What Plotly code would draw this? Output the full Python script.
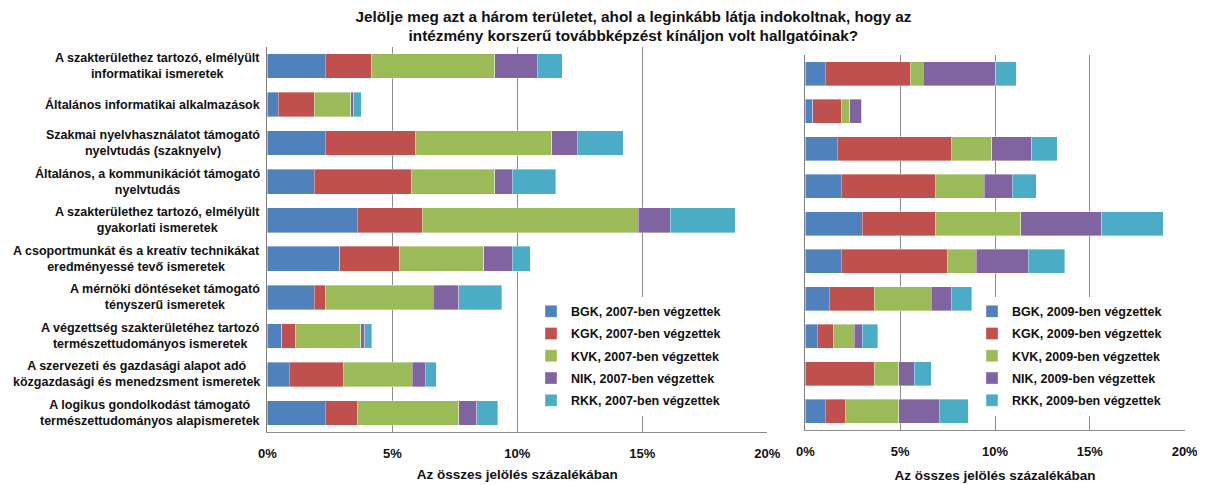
import plotly.graph_objects as go

categories = [
    "A szakterülethez tartozó, elmélyült<br>informatikai ismeretek",
    "Általános informatikai alkalmazások",
    "Szakmai nyelvhasználatot támogató<br>nyelvtudás (szaknyelv)",
    "Általános, a kommunikációt támogató<br>nyelvtudás",
    "A szakterülethez tartozó, elmélyült<br>gyakorlati ismeretek",
    "A csoportmunkát és a kreatív technikákat<br>eredményessé tevő ismeretek",
    "A mérnöki döntéseket támogató<br>tényszerű ismeretek",
    "A végzettség szakterületéhez tartozó<br>természettudományos ismeretek",
    "A szervezeti és gazdasági alapot adó<br>közgazdasági és menedzsment ismeretek",
    "A logikus gondolkodást támogató<br>természettudományos alapismeretek",
]
cat_ids = [f"c{i}" for i in range(len(categories))]

faculties = ["BGK", "KGK", "KVK", "NIK", "RKK"]
colors = ["#4F81BD", "#C0504D", "#9BBB59", "#8064A2", "#4BACC6"]

# percentages, 2007 graduates
bgk_2007 = [2.32, 0.44, 2.32, 1.88, 3.60, 2.89, 1.88, 0.57, 0.88, 2.32]
kgk_2007 = [1.85, 1.43, 3.59, 3.89, 2.59, 2.41, 0.43, 0.57, 2.15, 1.29]
kvk_2007 = [4.92, 1.46, 5.46, 3.32, 8.65, 3.35, 4.33, 2.60, 2.76, 4.04]
nik_2007 = [1.70, 0.12, 1.02, 0.71, 1.27, 1.15, 1.01, 0.16, 0.53, 0.72]
rkk_2007 = [1.01, 0.30, 1.85, 1.73, 2.60, 0.72, 1.72, 0.27, 0.44, 0.84]

# percentages, 2009 graduates
bgk_2009 = [1.05, 0.40, 1.69, 1.90, 3.01, 1.90, 1.27, 0.63, 0.00, 1.05]
kgk_2009 = [4.48, 1.48, 5.99, 4.94, 3.83, 5.57, 2.35, 0.83, 3.62, 1.09]
kvk_2009 = [0.69, 0.47, 2.16, 2.58, 4.51, 1.53, 3.02, 1.11, 1.30, 2.78]
nik_2009 = [3.83, 0.63, 2.11, 1.48, 4.27, 2.74, 1.04, 0.42, 0.81, 2.13]
rkk_2009 = [1.07, 0.00, 1.34, 1.28, 3.24, 1.93, 1.09, 0.84, 0.91, 1.53]

series_2007 = [bgk_2007, kgk_2007, kvk_2007, nik_2007, rkk_2007]
series_2009 = [bgk_2009, kgk_2009, kvk_2009, nik_2009, rkk_2009]

tick_vals = [0, 5, 10, 15, 20]
tick_text = ["0%", "5%", "10%", "15%", "20%"]

FONT = "Liberation Sans, Arial, sans-serif"

fig = go.Figure()

for name, col, vals in zip(faculties, colors, series_2007):
    fig.add_trace(go.Bar(
        x=vals, y=cat_ids, orientation="h", name=f"{name}, 2007-ben végzettek",
        marker=dict(color=col, line=dict(color="rgba(255,255,255,0.45)", width=0.8)),
        xaxis="x", yaxis="y", legend="legend", legendgroup=f"{name}07",
    ))

for name, col, vals in zip(faculties, colors, series_2009):
    fig.add_trace(go.Bar(
        x=vals, y=cat_ids, orientation="h", name=f"{name}, 2009-ben végzettek",
        marker=dict(color=col, line=dict(color="rgba(255,255,255,0.45)", width=0.8)),
        xaxis="x2", yaxis="y2", legend="legend2", legendgroup=f"{name}09",
    ))

# category labels, centred text like the original
for cid, label in zip(cat_ids, categories):
    fig.add_annotation(
        x=0.2112, xref="paper", xanchor="right", y=cid, yref="y",
        text=f"<b>{label}</b>", showarrow=False, align="center",
        font=dict(family=FONT, size=12.5, color="#111111"),
    )

xaxis_common = dict(
    range=[0, 20], tickvals=tick_vals, ticktext=tick_text,
    showgrid=True, gridcolor="#8c8c8c", gridwidth=1,
    showline=True, linecolor="#8c8c8c", linewidth=1,
    zeroline=False, ticks="", ticklabelstandoff=9,
    tickfont=dict(family=FONT, size=13, color="#111111", weight="bold"),
    automargin=False, fixedrange=True, tickangle=0,
)
title_font = dict(family=FONT, size=13.5, color="#111111")
axis_title = "<b>Az összes jelölés százalékában</b>"

yaxis_common = dict(
    categoryorder="array", categoryarray=cat_ids, autorange="reversed",
    showticklabels=False, ticks="", showgrid=False,
    showline=True, linecolor="#7f7f7f", linewidth=1,
    automargin=False, fixedrange=True,
)

legend_common = dict(
    bgcolor="white", borderwidth=0, tracegroupgap=3,
    font=dict(family=FONT, size=12.5, color="#111111", weight="bold"),
    xanchor="left", yanchor="top", y=0.3577,
)

fig.update_layout(
    width=1205, height=485,
    margin=dict(l=0, r=0, t=35, b=55, autoexpand=False),
    paper_bgcolor="white", plot_bgcolor="white",
    barmode="stack", bargap=0.36,
    font=dict(family=FONT),
    title=dict(
        text="<b>Jelölje meg azt a három területet, ahol a leginkább látja indokoltnak, hogy az<br>"
             "intézmény korszerű továbbképzést kínáljon volt hallgatóinak?</b>",
        x=0.519, xanchor="center", y=0.972, yanchor="middle",
        font=dict(family=FONT, size=15.3, color="#111111"),
    ),
    xaxis=dict(domain=[0.2152, 0.6301], anchor="y",
               title=dict(text=axis_title, font=title_font, standoff=9), **xaxis_common),
    yaxis=dict(domain=[0.0144, 0.9906], anchor="x", **yaxis_common),
    xaxis2=dict(domain=[0.6617, 0.9765], anchor="y2",
                title=dict(text=axis_title, font=title_font, standoff=12), **xaxis_common),
    yaxis2=dict(domain=[0.0203, 0.9696], anchor="x2", **yaxis_common),
    legend=dict(x=523 / 1205, **legend_common),
    legend2=dict(x=964 / 1205, **legend_common),
    showlegend=True,
)

fig.write_html("out.html")
